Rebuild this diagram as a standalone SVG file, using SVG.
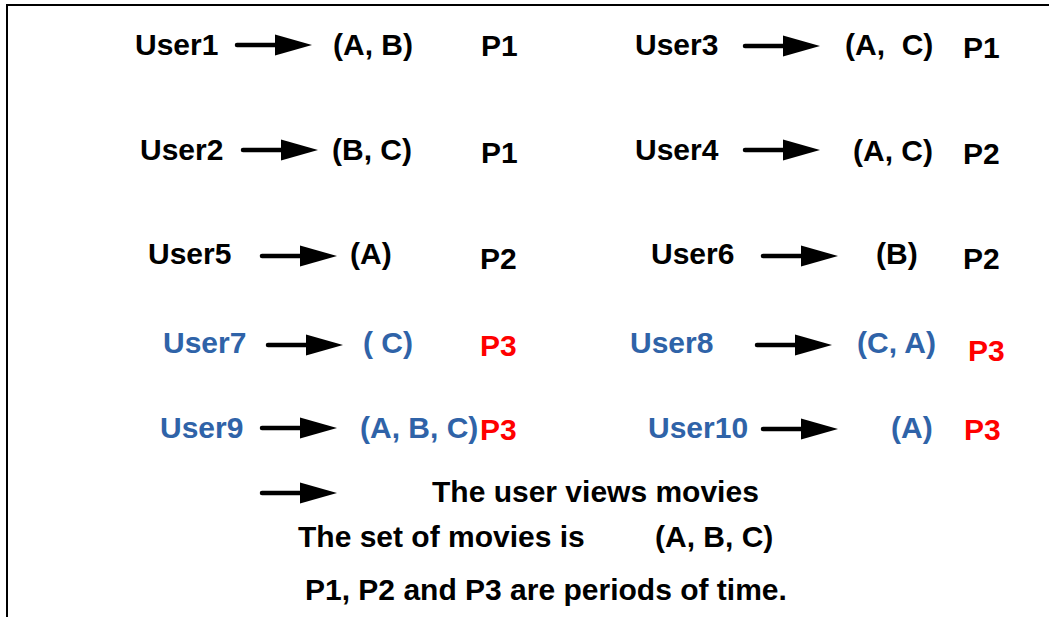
<svg xmlns="http://www.w3.org/2000/svg" width="1049" height="617" viewBox="0 0 1049 617">
  <style>
    text { font-family: "Liberation Sans", Arial, sans-serif; font-weight: bold; font-size: 30px; fill: #000; }
    .blue { fill: #2f63a8; }
    .red { fill: #ff0000; }
    .shaft { stroke: #000; stroke-width: 4.5; stroke-linecap: round; fill: none; }
    .head { fill: #000; }
  </style>
  <defs>
    <!-- arrow: round-capped shaft plus filled triangular head, tip at (75,0) -->
    <g id="arrow">
      <line class="shaft" x1="0" y1="0" x2="42" y2="0"/>
      <polygon class="head" points="38,-10.5 75,0 38,10.5"/>
    </g>
  </defs>
  <rect x="0" y="0" width="1049" height="617" fill="#fff"/>
  <!-- frame: top and left edges -->
  <path d="M7 617 V5 H1049" fill="none" stroke="#000" stroke-width="2"/>

  <g id="connectors">
    <use href="#arrow" x="237" y="45"/>
    <use href="#arrow" x="745" y="46"/>
    <use href="#arrow" x="243" y="150"/>
    <use href="#arrow" x="745" y="150"/>
    <use href="#arrow" x="262" y="256"/>
    <use href="#arrow" x="763" y="256"/>
    <use href="#arrow" x="268" y="345"/>
    <use href="#arrow" x="757" y="345"/>
    <use href="#arrow" x="262" y="428"/>
    <use href="#arrow" x="763" y="429"/>
  </g>

  <g id="user1"><text x="135" y="55">User1</text><text x="333" y="55">(A, B)</text><text x="481" y="56">P1</text></g>
  <g id="user3"><text x="635" y="55">User3</text><text x="845" y="55" xml:space="preserve">(A,  C)</text><text x="963" y="58">P1</text></g>
  <g id="user2"><text x="140" y="160">User2</text><text x="332" y="160">(B, C)</text><text x="481" y="163">P1</text></g>
  <g id="user4"><text x="635" y="160">User4</text><text x="853" y="161">(A, C)</text><text x="963" y="164">P2</text></g>
  <g id="user5"><text x="148" y="264">User5</text><text x="350" y="264">(A)</text><text x="480" y="269">P2</text></g>
  <g id="user6"><text x="651" y="264">User6</text><text x="876" y="264">(B)</text><text x="963" y="269">P2</text></g>
  <g id="user7"><text class="blue" x="163" y="353">User7</text><text class="blue" x="363" y="353">( C)</text><text class="red" x="480" y="356">P3</text></g>
  <g id="user8"><text class="blue" x="630" y="353">User8</text><text class="blue" x="857" y="353">(C, A)</text><text class="red" x="968" y="361">P3</text></g>
  <g id="user9"><text class="blue" x="160" y="438">User9</text><text class="blue" x="360" y="438">(A, B, C)</text><text class="red" x="480" y="440">P3</text></g>
  <g id="user10"><text class="blue" x="648" y="438">User10</text><text class="blue" x="891" y="438">(A)</text><text class="red" x="964" y="440">P3</text></g>

  <g id="legend">
    <use href="#arrow" x="262" y="493"/>
    <text x="432" y="502">The user views movies</text>
    <text x="298" y="547">The set of movies is</text>
    <text x="655" y="547">(A, B, C)</text>
    <text x="305" y="600">P1, P2 and P3 are periods of time.</text>
  </g>
</svg>
